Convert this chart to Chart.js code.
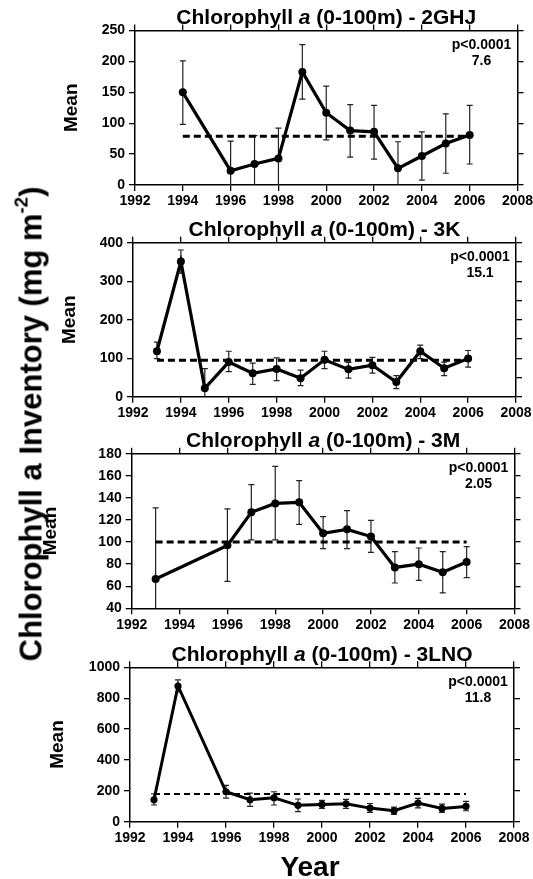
<!DOCTYPE html>
<html><head><meta charset="utf-8">
<script src="https://cdn.jsdelivr.net/npm/chart.js@4.4.1/dist/chart.umd.min.js"></script>
<style>
html,body{margin:0;padding:0;background:#fff;width:533px;height:879px;overflow:hidden;position:relative;}
canvas{position:absolute;left:0;top:0;}
.lab{position:absolute;font-family:"Liberation Sans",Arial,sans-serif;font-weight:bold;color:#000;white-space:nowrap;line-height:1;}
#ylab{font-size:31px;left:31px;top:424px;transform:translate(-50%,-50%) rotate(-90deg);}
#ylab sup{font-size:0.6em;vertical-align:0.75em;line-height:0;}
#xlab{font-size:28px;left:310px;top:853px;transform:translateX(-50%);}
</style></head><body>
<canvas id="c1" width="533" height="879"></canvas>
<canvas id="c2" width="533" height="879"></canvas>
<canvas id="c3" width="533" height="879"></canvas>
<canvas id="c4" width="533" height="879"></canvas>
<div class="lab" id="ylab">Chlorophyll a Inventory (mg m<sup>-2</sup>)</div>
<div class="lab" id="xlab">Year</div>
<script>
// ---- Data ----
const years2GHJ = [1994,1996,1997,1998,1999,2000,2001,2002,2003,2004,2005,2006];
const mean2GHJ  = [150,23,34,43,183,117,88,86,27,47,67,81];
const upper2GHJ = [201,71,80,92,227,160,130,129,70,86,115,129];
const lower2GHJ = [98,0,0,0,139,73,45,42,0,8,19,34];
const grand2GHJ = 79;
const stat2GHJ  = ["p<0.0001","7.6"];

const years3K = [1993,1994,1995,1996,1997,1998,1999,2000,2001,2002,2003,2004,2005,2006];
const mean3K  = [118,351,22,90,61,72,48,96,71,82,38,118,74,99];
const upper3K = [142,381,73,118,87,101,69,118,89,102,55,134,90,120];
const lower3K = [99,321,0,65,32,42,29,73,48,61,21,99,55,77];
const grand3K = 95;
const stat3K  = ["p<0.0001","15.1"];

const years3M = [1993,1996,1997,1998,1999,2000,2001,2002,2003,2004,2005,2006];
const mean3M  = [66.6,97,127,135,136,108,111.5,105,77,80,72.6,82];
const upper3M = [131,130,152,168.5,155.6,123,128.4,119.7,91.3,94.6,91.3,95.8];
const lower3M = [40,64.4,102,102,116,94,94,90.7,62.9,65.3,53.9,67.8];
const grand3M = 100;
const stat3M  = ["p<0.0001","2.05"];

const years3LNO = [1993,1994,1996,1997,1998,1999,2000,2001,2002,2003,2004,2005,2006];
const mean3LNO  = [142,879,194,142,155,106,112,116,88,71,121,86,99];
const upper3LNO = [181,918,235,185,194,147,138,144,118,95,151,114,131];
const lower3LNO = [108,840,153,99,108,65,86,86,60,47,90,60,71];
const grand3LNO = 179;
const stat3LNO  = ["p<0.0001","11.8"];

const yearTicks = {min:1992, max:2008, step:2};
const titleParts = ["Chlorophyll ", "a", " (0-100m) - "];

// ---- Layout ----
const FONT = '"Liberation Sans", Arial, sans-serif';
const panels = [
  {id:'c1', name:'2GHJ', years:years2GHJ, mean:mean2GHJ, upper:upper2GHJ, lower:lower2GHJ, grand:grand2GHJ, stat:stat2GHJ,
   L:135, R:517.5, T:30.5, B:185, yMin:0, yMax:250, yStep:50, meanX:72, pr:4, lw:3.2, dashW:3, dash:[7,4]},
  {id:'c2', name:'3K', years:years3K, mean:mean3K, upper:upper3K, lower:lower3K, grand:grand3K, stat:stat3K,
   L:133, R:516, T:242.7, B:396.7, yMin:0, yMax:400, yStep:50, meanX:70, pr:4, lw:3.2, dashW:3, dash:[7,4]},
  {id:'c3', name:'3M', years:years3M, mean:mean3M, upper:upper3M, lower:lower3M, grand:grand3M, stat:stat3M,
   L:131.7, R:514.5, T:453.7, B:608.3, yMin:40, yMax:180, yStep:20, meanX:51, pr:4, lw:3.2, dashW:3, dash:[7,4]},
  {id:'c4', name:'3LNO', years:years3LNO, mean:mean3LNO, upper:upper3LNO, lower:lower3LNO, grand:grand3LNO, stat:stat3LNO,
   L:130, R:514, T:667.3, B:821.7, yMin:0, yMax:1000, yStep:200, meanX:58, pr:3.6, lw:3, dashW:2, dash:[6,4]}
];

const TICK = 6, XH = 28, MEANFS = 19;

function makeChart(p){
  const padLeft = p.meanX - MEANFS*1.2/2;
  const errPlugin = {
    id:'err_'+p.id,
    beforeDatasetsDraw(chart){
      const {ctx, chartArea:a} = chart;
      const x = chart.scales.x, y = chart.scales.y;
      ctx.save();
      ctx.beginPath(); ctx.rect(a.left, a.top, a.right-a.left, a.bottom-a.top); ctx.clip();
      ctx.strokeStyle = '#222'; ctx.lineWidth = 1.2;
      p.years.forEach((yr,i)=>{
        const px = x.getPixelForValue(yr);
        const pt = y.getPixelForValue(p.upper[i]);
        const pb = y.getPixelForValue(p.lower[i]);
        ctx.beginPath();
        ctx.moveTo(px, pt); ctx.lineTo(px, pb);
        ctx.moveTo(px-3, pt); ctx.lineTo(px+3, pt);
        if (p.lower[i] > p.yMin) { ctx.moveTo(px-3, pb); ctx.lineTo(px+3, pb); }
        ctx.stroke();
      });
      ctx.restore();
    },
    afterDraw(chart){
      const {ctx, chartArea:a} = chart;
      ctx.save();
      ctx.fillStyle = '#000';
      // title with italic "a"
      const fB = 'bold 21px '+FONT, fI = 'italic bold 21px '+FONT;
      const segs = [[titleParts[0],fB],[titleParts[1],fI],[titleParts[2]+p.name,fB]];
      let tw = 0;
      segs.forEach(s=>{ctx.font=s[1]; tw += ctx.measureText(s[0]).width;});
      let tx = (a.left+a.right)/2 - tw/2;
      ctx.textBaseline = 'alphabetic'; ctx.textAlign = 'left';
      segs.forEach(s=>{ctx.font=s[1]; ctx.fillText(s[0], tx, a.top-6.5); tx += ctx.measureText(s[0]).width;});
      // statistics
      ctx.font = 'bold 14px '+FONT; ctx.textAlign = 'center';
      ctx.fillText(p.stat[0], a.right-36, a.top+18.5);
      ctx.fillText(p.stat[1], a.right-36, a.top+34.5);
      ctx.restore();
    }
  };
  const tickFont = {family:FONT, size:14, weight:'bold'};
  const gridOut = {drawOnChartArea:false, drawTicks:true, tickLength:TICK, color:'#000', lineWidth:1.3};
  const border = {display:true, color:'#000', width:1.5};
  new Chart(document.getElementById(p.id), {
    type:'line',
    data:{datasets:[
      {data:p.years.map((x,i)=>({x:x, y:p.mean[i]})), borderColor:'#000', backgroundColor:'#000',
       borderWidth:p.lw, pointRadius:p.pr, pointBackgroundColor:'#000', pointBorderColor:'#000', pointBorderWidth:0,
       tension:0, order:0},
      {data:[{x:p.years[0], y:p.grand},{x:p.years[p.years.length-1], y:p.grand}], borderColor:'#000',
       borderWidth:p.dashW, borderDash:p.dash, pointRadius:0, tension:0, order:1}
    ]},
    options:{
      responsive:false, animation:false, devicePixelRatio:1, events:[],
      layout:{padding:{left:padLeft, top:p.T-TICK, right:533-p.R-TICK, bottom:879-p.B-XH}},
      plugins:{legend:{display:false}, tooltip:{enabled:false}, title:{display:false}},
      scales:{
        x:{type:'linear', position:'bottom', min:yearTicks.min, max:yearTicks.max,
           ticks:{stepSize:yearTicks.step, autoSkip:false, maxRotation:0, color:'#000', font:tickFont, padding:2, callback:v=>String(v)},
           grid:gridOut, border:border,
           afterFit:s=>{s.height=XH; s.paddingLeft=0; s.paddingRight=0;}},
        x2:{type:'linear', position:'top', min:yearTicks.min, max:yearTicks.max,
           ticks:{stepSize:yearTicks.step, display:false}, grid:gridOut, border:border,
           afterFit:s=>{s.height=TICK; s.paddingLeft=0; s.paddingRight=0;}},
        y:{type:'linear', position:'left', min:p.yMin, max:p.yMax,
           ticks:{stepSize:p.yStep, color:'#000', font:tickFont, padding:4, callback:v=>String(v)},
           grid:gridOut, border:border,
           title:{display:true, text:'Mean', color:'#000', font:{family:FONT, size:MEANFS, weight:'bold'}, padding:0},
           afterFit:s=>{s.width=p.L-padLeft; s.paddingTop=0; s.paddingBottom=0;}},
        y2:{type:'linear', position:'right', min:p.yMin, max:p.yMax,
           ticks:{stepSize:p.yStep, display:false}, grid:gridOut, border:border,
           afterFit:s=>{s.width=TICK; s.paddingTop=0; s.paddingBottom=0;}}
      }
    },
    plugins:[errPlugin]
  });
}
panels.forEach(makeChart);
</script>
</body></html>
